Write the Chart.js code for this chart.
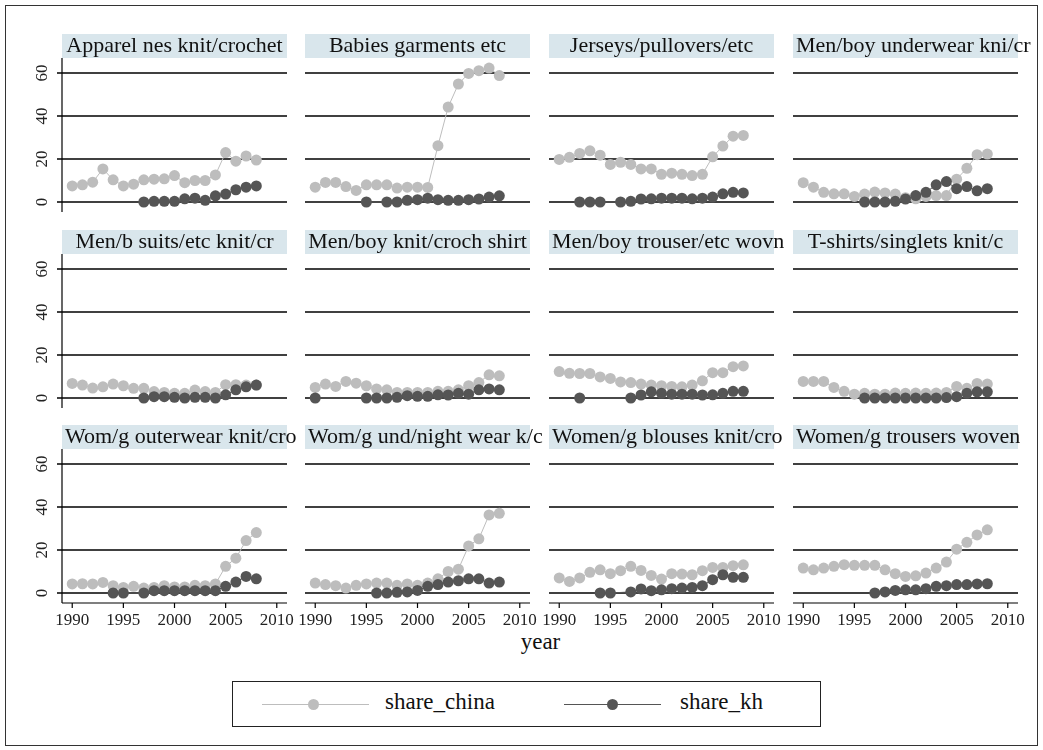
<!DOCTYPE html>
<html>
<head>
<meta charset="utf-8">
<script src="https://cdn.jsdelivr.net/npm/chart.js@4.4.0/dist/chart.umd.min.js"></script>
<style>
body{margin:0;background:#fff;width:1043px;height:750px;position:relative;overflow:hidden;font-family:"Liberation Serif","Times New Roman",serif;color:#111;}
canvas{position:absolute;}
#frame{position:absolute;left:5px;top:5px;width:1031px;height:739px;border:1px solid #333;}
#xtitle{position:absolute;left:0;width:1081px;top:629px;text-align:center;font-size:23px;}
#legend{position:absolute;left:232px;top:681px;width:587px;height:44px;border:1px solid #222;}
.seg{position:absolute;height:1px;top:22px;}
.dot{position:absolute;width:11px;height:11px;border-radius:50%;top:17px;}
.lab{position:absolute;top:7px;font-size:23px;}
</style>
</head>
<body>
<div id="frame"></div>
<div id="xtitle">year</div>
<div id="legend">
  <div class="seg" style="left:29px;width:107px;background:#bdbdbd"></div>
  <div class="dot" style="left:75px;background:#bdbdbd"></div>
  <div class="lab" style="left:152px">share_china</div>
  <div class="seg" style="left:331px;width:97px;background:#555"></div>
  <div class="dot" style="left:374px;background:#555"></div>
  <div class="lab" style="left:447px">share_kh</div>
</div>
<script>
// data (share in %), years 1990-2008, null = missing
const years = [1990,1991,1992,1993,1994,1995,1996,1997,1998,1999,2000,2001,2002,2003,2004,2005,2006,2007,2008];
const yTicks = [0,20,40,60];
const xTicks = [1990,1995,2000,2005,2010];

const apparelChina = [7.5,8,9.2,15.4,10.3,7.5,8.3,10.3,10.6,10.8,12.3,9,10,10,12.6,23,19,21.4,19.5];
const apparelKh = [null,null,null,null,null,null,null,0,0.3,0.3,0.3,1.5,1.8,0.8,2.9,3.7,5.7,6.9,7.5];
const babiesChina = [6.9,9.1,9.1,7.2,5.4,8,8,8,6.5,6.9,6.9,6.8,26.2,44.2,54.9,59.8,61.1,62.3,58.8];
const babiesKh = [null,null,null,null,null,0,null,0,0,0.8,1.1,1.8,1.1,0.8,0.8,1.1,1.4,2.3,2.9];
const jerseysChina = [19.8,20.8,22.6,23.8,21.8,17.5,18.5,17.5,15.4,15.4,12.9,13.4,12.9,12.3,12.9,21,26,30.6,31];
const jerseysKh = [null,null,0,0,0,null,0,0.3,1.4,1.5,1.8,1.8,1.8,1.5,1.8,2.3,3.8,4.5,4.2];
const underwearChina = [9,6.9,4.5,3.8,3.8,2.6,3.7,4.6,4.2,3.7,2,1.5,2.6,3,3,10.6,15.7,22,22.3];
const underwearKh = [null,null,null,null,null,null,0,0,0,0.3,1.4,3,4.5,8,9.5,6.2,7.2,5.2,6.2];
const suitsChina = [6.8,6,4.6,5.2,6.5,5.7,4.5,4.5,3,2.6,2.2,2.2,3.7,3,2.6,6.2,6.2,6,6];
const suitsKh = [null,null,null,null,null,null,null,0,0.6,0.6,0.3,0,0.3,0.3,0,1.5,3.8,5.2,6];
const shirtChina = [4.9,6.5,5.4,7.7,6.9,5.7,4.2,3.8,2.6,2.6,2.6,2.6,3.1,3.1,3.8,5.7,7.2,10.8,10.3];
const shirtKh = [0,null,null,null,null,0,0,0,0.3,1.1,0.8,0.8,1.5,1.4,2.2,1.8,3.8,4.2,3.8];
const mTrouserChina = [12.3,11.5,11.4,11.4,9.8,9.1,7.5,7.2,6.5,6,5.7,5.4,5.2,6,8,11.8,11.8,14.6,14.9];
const mTrouserKh = [null,null,0,null,null,null,null,0,1.4,2.9,2.2,1.8,1.8,1.8,1.4,1.5,2.2,3.1,3.1];
const tshirtChina = [7.7,7.7,7.7,4.9,3.1,1.8,2.2,1.8,1.8,2.3,2.2,2.3,2.2,2.3,2.6,5.4,4.5,6.8,6.5];
const tshirtKh = [null,null,null,null,null,null,0,0,0,0,0,0,0,0,0.2,0.6,2.2,2.9,2.9];
const outerChina = [4.2,4.3,4.2,4.9,3.4,2.6,3.1,2.3,2.6,3.4,2.8,2.8,3.6,3.4,4.2,12.4,16.2,24.4,28.1];
const outerKh = [null,null,null,null,0,0,null,0,1.1,1.1,1.1,1.1,1.1,1.1,1.1,3.1,5.1,7.7,6.6];
const nightChina = [4.6,3.9,3.4,2.3,3.6,4.2,4.6,4.6,3.6,4.2,3.6,4.6,6.6,10,11.1,21.9,25.2,36.3,37.1];
const nightKh = [null,null,null,null,null,null,0,0,0.3,0.5,1.2,3.1,3.9,5.1,5.7,6.6,6.6,4.6,5.1];
const blousesChina = [7,5.4,7,9.6,10.8,9,10.4,12.4,10.5,8.2,6.5,9,8.8,8.5,10.4,11.9,11.9,12.7,13.1];
const blousesKh = [null,null,null,null,0,0,null,0.5,1.9,1.1,1.5,2,2.3,2.6,3.4,6.2,8.5,7.3,7.3];
const wTrouserChina = [11.6,10.8,11.6,12.4,13.2,12.9,12.9,12.9,10.8,9,7.7,8,9.3,11.6,14.4,20.4,23.6,27,29.4];
const wTrouserKh = [null,null,null,null,null,null,null,0,0.5,1.2,1.5,1.5,2,3.1,3.4,3.9,3.9,4.2,4.3];

const titles = ['Apparel nes knit/crochet','Babies garments etc','Jerseys/pullovers/etc','Men/boy underwear kni/cr',
  'Men/b suits/etc knit/cr','Men/boy knit/croch shirt','Men/boy trouser/etc wovn','T-shirts/singlets knit/c',
  'Wom/g outerwear knit/cro','Wom/g und/night wear k/c','Women/g blouses knit/cro','Women/g trousers woven'];
const chinaSeries = [apparelChina,babiesChina,jerseysChina,underwearChina,suitsChina,shirtChina,mTrouserChina,tshirtChina,outerChina,nightChina,blousesChina,wTrouserChina];
const khSeries = [apparelKh,babiesKh,jerseysKh,underwearKh,suitsKh,shirtKh,mTrouserKh,tshirtKh,outerKh,nightKh,blousesKh,wTrouserKh];

const chinaColor = '#bdbdbd', khColor = '#555555';
const colLeft = [62,305,549,793], rowTop = [58,253.5,449];
const PW = 225, PH = 154;
const PL = 50, PR = 22, PT = 26, PB = 40;

function pts(vals){ return years.map((yr,i)=>({x:yr,y:vals[i]})).filter(p=>p.y!==null); }

const deco = {
  id:'deco',
  beforeDatasetsDraw(chart){
    const {ctx, chartArea:a, scales:{x,y}} = chart;
    const o = chart.options.plugins.deco;
    ctx.save();
    ctx.strokeStyle='#000'; ctx.lineWidth=1.6;
    yTicks.forEach(v=>{
      const py = y.getPixelForValue(v);
      ctx.beginPath(); ctx.moveTo(a.left-(o.col===0?5:0),py); ctx.lineTo(a.right,py); ctx.stroke();
    });
    ctx.fillStyle='#222'; ctx.font='17px "Liberation Serif"';
    if(o.col===0){
      ctx.lineWidth=1.2;
      ctx.beginPath(); ctx.moveTo(a.left,a.top); ctx.lineTo(a.left,a.bottom); ctx.stroke();
      ctx.textAlign='center'; ctx.textBaseline='middle';
      yTicks.forEach(v=>{
        const py = y.getPixelForValue(v);
        ctx.save(); ctx.translate(a.left-19,py); ctx.rotate(-Math.PI/2); ctx.fillText(String(v),0,0); ctx.restore();
      });
    }
    if(o.row===2){
      ctx.lineWidth=1.2;
      ctx.beginPath(); ctx.moveTo(a.left,a.bottom); ctx.lineTo(a.right,a.bottom); ctx.stroke();
      ctx.textAlign='center'; ctx.textBaseline='top';
      xTicks.forEach(v=>{
        const px = x.getPixelForValue(v);
        ctx.beginPath(); ctx.moveTo(px,a.bottom); ctx.lineTo(px,a.bottom+5); ctx.stroke();
        ctx.fillText(String(v),px,a.bottom+9);
      });
    }
    ctx.restore();
  },
  afterDraw(chart){
    const {ctx, chartArea:a} = chart;
    const o = chart.options.plugins.deco;
    ctx.save();
    ctx.fillStyle='#d9e6ec';
    ctx.fillRect(a.left,a.top-24,a.right-a.left,24);
    ctx.font='22px "Liberation Serif"'; ctx.fillStyle='#111'; ctx.textBaseline='alphabetic';
    const w = ctx.measureText(o.title).width;
    const tx = Math.max(a.left+3,(a.left+a.right)/2-w/2);
    ctx.fillText(o.title,tx,a.top-6);
    ctx.restore();
  }
};

titles.forEach((t,i)=>{
  const row = Math.floor(i/4), col = i%4;
  const cv = document.createElement('canvas');
  cv.width = PL+PW+PR; cv.height = PT+PH+PB;
  cv.style.left = (colLeft[col]-PL)+'px';
  cv.style.top = (rowTop[row]-PT)+'px';
  document.body.appendChild(cv);
  const common = {showLine:true, borderWidth:1, pointRadius:5.5, pointBorderWidth:0, pointHoverRadius:5.5, clip:false};
  new Chart(cv,{
    type:'scatter',
    data:{datasets:[
      Object.assign({label:'share_kh', data:pts(khSeries[i]), borderColor:khColor, pointBackgroundColor:khColor, order:0}, common),
      Object.assign({label:'share_china', data:pts(chinaSeries[i]), borderColor:chinaColor, pointBackgroundColor:chinaColor, order:1}, common)
    ]},
    options:{
      responsive:false, animation:false, events:[],
      layout:{padding:{left:PL,right:PR,top:PT,bottom:PB}},
      plugins:{legend:{display:false}, tooltip:{enabled:false}, deco:{title:t,row:row,col:col}},
      scales:{
        x:{type:'linear',min:1989,max:2011,display:false},
        y:{type:'linear',min:-4.65,max:67,display:false}
      }
    },
    plugins:[deco]
  });
});
</script>
</body>
</html>
